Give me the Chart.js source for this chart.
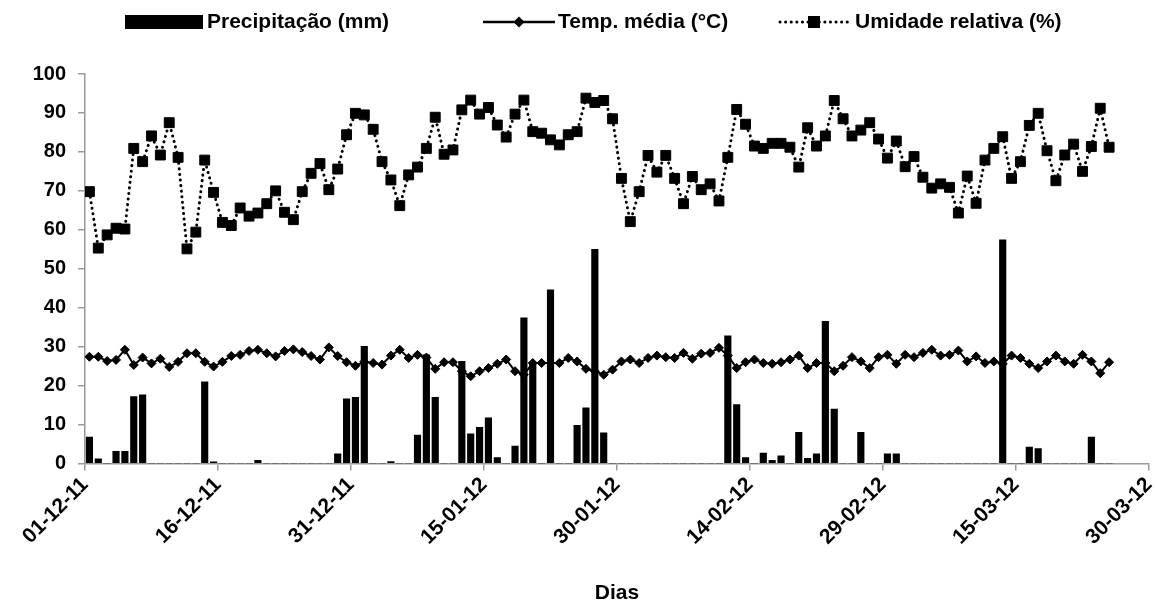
<!DOCTYPE html>
<html>
<head>
<meta charset="utf-8">
<script src="https://cdn.jsdelivr.net/npm/chart.js@4/dist/chart.umd.min.js"></script>
<style>
  body { margin: 0; background: #fff; }
</style>
</head>
<body>
<canvas id="grafico" width="1157" height="607"></canvas>
<script>
// dados diarios a partir de 01-12-11
const precipitacao = [6.8, 1.2, 0, 3.1, 3.1, 17.2, 17.6, 0, 0, 0, 0, 0, 0, 21.0, 0.4, 0, 0, 0, 0, 0.8,
  0, 0, 0, 0, 0, 0, 0, 0, 2.5, 16.6,
  17.0, 30.1, 0, 0, 0.5, 0, 0, 7.3, 27.9, 17.0,
  0, 0, 26.2, 7.6, 9.3, 11.7, 1.5, 0, 4.5, 37.4,
  25.8, 0, 44.6, 0, 0, 9.8, 14.3, 55.0, 7.9, 0,
  0, 0, 0, 0, 0, 0, 0, 0, 0, 0,
  0, 0, 32.8, 15.1, 1.5, 0, 2.7, 0.8, 2.0, 0,
  8.0, 1.3, 2.5, 36.5, 14.0, 0, 0, 8.0, 0, 0,
  2.5, 2.5, 0, 0, 0, 0, 0, 0, 0, 0,
  0, 0, 0, 57.4, 0, 0, 4.2, 3.8, 0, 0,
  0, 0, 0, 6.8, 0, 0];

const tempMedia = [27.4, 27.4, 26.3, 26.6, 29.2, 25.3, 27.2, 25.7, 26.9, 24.8,
  26.1, 28.3, 28.3, 26.1, 24.9, 26.1, 27.6, 27.9, 28.9, 29.2,
  28.3, 27.5, 28.9, 29.3, 28.6, 27.6, 26.7, 29.8, 27.6, 26.0,
  25.1, 26.1, 25.8, 25.4, 27.7, 29.2, 27.1, 27.9, 27.2, 24.3,
  26.0, 26.0, 23.7, 22.4, 23.7, 24.5, 25.6, 26.7, 23.7, 22.8,
  25.8, 25.8, 25.8, 25.8, 27.1, 26.2, 24.3, 23.7, 22.8, 24.1,
  26.2, 26.7, 25.8, 27.1, 27.7, 27.3, 27.1, 28.4, 26.9, 28.2,
  28.4, 29.7, 27.7, 24.5, 26.0, 26.7, 25.8, 25.6, 26.0, 26.7,
  27.7, 24.5, 25.8, 25.8, 23.7, 25.1, 27.3, 26.2, 24.5, 27.3,
  27.9, 25.6, 27.9, 27.3, 28.4, 29.2, 27.7, 27.9, 29.0, 26.2,
  27.5, 25.8, 26.2, 25.6, 27.7, 27.1, 25.6, 24.5, 26.2, 27.7,
  26.2, 25.6, 27.9, 26.2, 23.2, 26.0];

const umidade = [69.8, 55.3, 58.7, 60.4, 60.2, 80.9, 77.5, 84.1, 79.2, 87.5,
  78.6, 55.1, 59.4, 77.9, 69.6, 61.9, 61.1, 65.6, 63.5, 64.3,
  66.7, 70.0, 64.5, 62.6, 69.8, 74.5, 77.0, 70.3, 75.6, 84.4,
  89.9, 89.5, 85.8, 77.5, 72.8, 66.2, 74.1, 76.1, 80.9, 88.9,
  79.4, 80.5, 90.8, 93.3, 89.7, 91.4, 86.9, 83.8, 89.7, 93.3,
  85.2, 84.8, 83.1, 81.8, 84.4, 85.2, 93.8, 92.7, 93.2, 88.5,
  73.2, 62.1, 69.8, 79.1, 74.8, 79.1, 73.2, 66.7, 73.7, 70.3,
  71.8, 67.4, 78.6, 90.9, 87.1, 81.5, 80.9, 82.2, 82.2, 81.2,
  76.1, 86.2, 81.5, 84.1, 93.2, 88.5, 84.1, 85.6, 87.5, 83.3,
  78.4, 82.8, 76.2, 78.8, 73.5, 70.7, 71.8, 70.9, 64.3, 73.8,
  66.8, 77.9, 80.9, 83.9, 73.2, 77.5, 86.8, 89.9, 80.3, 72.6,
  79.2, 82.0, 75.0, 81.4, 91.2, 81.2];

const rotulosX = ['01-12-11', '16-12-11', '31-12-11', '15-01-12', '30-01-12',
  '14-02-12', '29-02-12', '15-03-12', '30-03-12'];
const nomes = ['Precipitação (mm)', 'Temp. média (°C)', 'Umidade relativa (%)'];

const fonte = '"Liberation Sans", Arial, sans-serif';
Chart.defaults.font.family = fonte;
Chart.defaults.color = '#000';

// cada dia ocupa uma faixa de 1 unidade; o ponto fica no meio dela
const pontos = arr => arr.map((v, i) => ({ x: i + 0.5, y: v }));

// legenda desenhada no topo, parecida com a do Excel
const legendaTopo = {
  id: 'legendaTopo',
  afterDraw(chart) {
    const ctx = chart.ctx;
    const y = 22;
    ctx.save();
    ctx.fillStyle = '#000';
    ctx.strokeStyle = '#000';
    ctx.font = 'bold 21px ' + fonte;
    ctx.textBaseline = 'middle';

    ctx.fillRect(125, 15, 78, 14);
    ctx.fillText(nomes[0], 207, y);

    ctx.lineWidth = 2.5;
    ctx.beginPath();
    ctx.moveTo(483, y);
    ctx.lineTo(555, y);
    ctx.stroke();
    ctx.beginPath();
    ctx.moveTo(519, y - 5.5);
    ctx.lineTo(524.5, y);
    ctx.lineTo(519, y + 5.5);
    ctx.lineTo(513.5, y);
    ctx.closePath();
    ctx.fill();
    ctx.fillText(nomes[1], 558, y);

    ctx.lineWidth = 3;
    ctx.lineCap = 'round';
    ctx.setLineDash([0.1, 5.5]);
    ctx.beginPath();
    ctx.moveTo(780, y);
    ctx.lineTo(850, y);
    ctx.stroke();
    ctx.setLineDash([]);
    ctx.fillRect(808, y - 6, 12, 12);
    ctx.fillText(nomes[2], 855, y);
    ctx.restore();
  }
};

const ctx = document.getElementById('grafico').getContext('2d');
new Chart(ctx, {
  type: 'bar',
  data: {
    datasets: [
      {
        type: 'line',
        label: nomes[2],
        data: pontos(umidade),
        borderColor: '#000',
        borderWidth: 3,
        borderDash: [0.1, 5.5],
        borderCapStyle: 'round',
        pointStyle: 'rect',
        pointRadius: 7,
        pointBorderWidth: 1,
        pointBackgroundColor: '#000',
        pointBorderColor: '#000',
        tension: 0,
        order: 1
      },
      {
        type: 'line',
        label: nomes[1],
        data: pontos(tempMedia),
        borderColor: '#000',
        borderWidth: 2,
        pointStyle: 'rectRot',
        pointRadius: 4.5,
        pointBorderWidth: 1,
        pointBackgroundColor: '#000',
        pointBorderColor: '#000',
        tension: 0,
        order: 2
      },
      {
        type: 'bar',
        label: nomes[0],
        data: pontos(precipitacao),
        backgroundColor: '#000',
        borderWidth: 0,
        barThickness: 6.5,
        order: 0
      }
    ]
  },
  options: {
    responsive: false,
    animation: false,
    layout: { padding: { top: 74, right: 8, left: 0, bottom: 0 } },
    plugins: {
      legend: { display: false },
      tooltip: { enabled: false }
    },
    scales: {
      x: {
        type: 'linear',
        min: 0,
        max: 120,
        offset: false,
        afterFit: s => {
          s.height = 143.5;
          s.paddingLeft = 0;
          s.paddingRight = 0;
        },
        afterBuildTicks: s => { s.ticks = rotulosX.map((r, i) => ({ value: i * 15 })); },
        ticks: {
          autoSkip: false,
          minRotation: 45,
          maxRotation: 45,
          padding: 2,
          font: { size: 21, weight: 'bold' },
          callback: (v, i) => rotulosX[i]
        },
        grid: { offset: false, drawOnChartArea: false, color: '#9a9a9a', tickLength: 7, lineWidth: 1.5 },
        border: { color: '#9a9a9a', width: 1.5 },
        title: {
          display: true,
          text: 'Dias',
          font: { size: 21, weight: 'bold' },
          padding: { top: 0, bottom: 1 }
        }
      },
      y: {
        min: 0,
        max: 100,
        afterFit: s => { s.width = 85; },
        ticks: {
          stepSize: 10,
          padding: 12,
          font: { size: 20, weight: 'bold' }
        },
        grid: { drawOnChartArea: false, color: '#9a9a9a', tickLength: 7, lineWidth: 1.5 },
        border: { color: '#9a9a9a', width: 1.5 }
      }
    }
  },
  plugins: [legendaTopo]
});
</script>
</body>
</html>
